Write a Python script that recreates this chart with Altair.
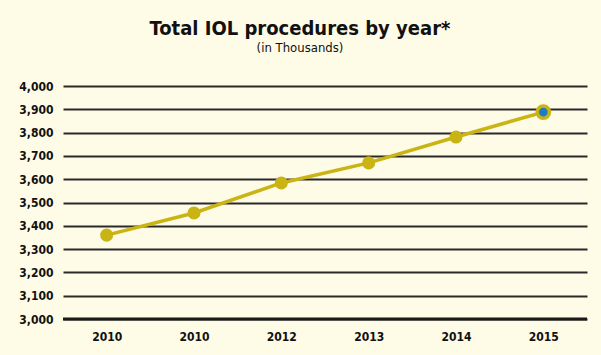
import altair as alt
import pandas as pd

labels = ["2010", "2010", "2012", "2013", "2014", "2015"]
values = [3360, 3455, 3584, 3670, 3781, 3888]
highlight = [False, False, False, False, False, True]
y_ticks = list(range(3000, 4001, 100))

df = pd.DataFrame({"idx": list(range(len(labels))), "label": labels,
                   "value": values, "hl": highlight})

label_expr = "[" + ",".join(f"'{l}'" for l in labels) + "][datum.value]"

FONT = "DejaVu Sans Condensed, Liberation Sans Narrow, Roboto, sans-serif"
GOLD = "#C9B414"

x = alt.X("idx:O", title=None,
          scale=alt.Scale(type="point", padding=0.5),
          axis=alt.Axis(labelExpr=label_expr, labelAngle=0, domain=False,
                        ticks=False, labelFont=FONT, labelFontSize=12,
                        labelFontWeight="bold", labelColor="#111",
                        labelPadding=12))
y = alt.Y("value:Q", title=None,
          scale=alt.Scale(domain=[3000, 4000], nice=False, zero=False),
          axis=alt.Axis(values=y_ticks, format=",d",
                        domain=False, ticks=False, grid=True,
                        gridColor="#2a2a2a", gridWidth=1.8,
                        labelFont=FONT, labelFontSize=12,
                        labelFontWeight="bold", labelColor="#111",
                        labelPadding=10))

base = alt.Chart(df)
line = base.mark_line(color=GOLD, strokeWidth=3.5).encode(x=x, y=y)
pts = base.transform_filter("!datum.hl").mark_circle(
    color=GOLD, size=170, opacity=1).encode(x=x, y=y)
last = base.transform_filter("datum.hl").mark_point(
    shape="circle", filled=True, fill="#1C7CC4", stroke=GOLD,
    strokeWidth=3.5, size=150, opacity=1).encode(x=x, y=y)
bottom = alt.Chart(pd.DataFrame({"value": [y_ticks[0]]})).mark_rule(
    color="#1a1a1a", strokeWidth=2.8).encode(y=y)

chart = alt.layer(line, bottom, pts, last).properties(
    width=524, height=233,
    background="#FEFBE6",
    padding={"left": 63, "top": 86, "right": 14, "bottom": 36},
    autosize=alt.AutoSizeParams(type="none"),
    title=alt.TitleParams(
        "Total IOL procedures by year*",
        subtitle="(in Thousands)",
        font=FONT, fontSize=20, fontWeight="bold", color="#111",
        subtitleFont=FONT, subtitleFontSize=13, subtitleColor="#111",
        subtitlePadding=3,
        anchor="middle", dx=-25, offset=25)
).configure_view(stroke=None)

chart.save("out.html", embed_options={"renderer": "svg", "actions": False})
